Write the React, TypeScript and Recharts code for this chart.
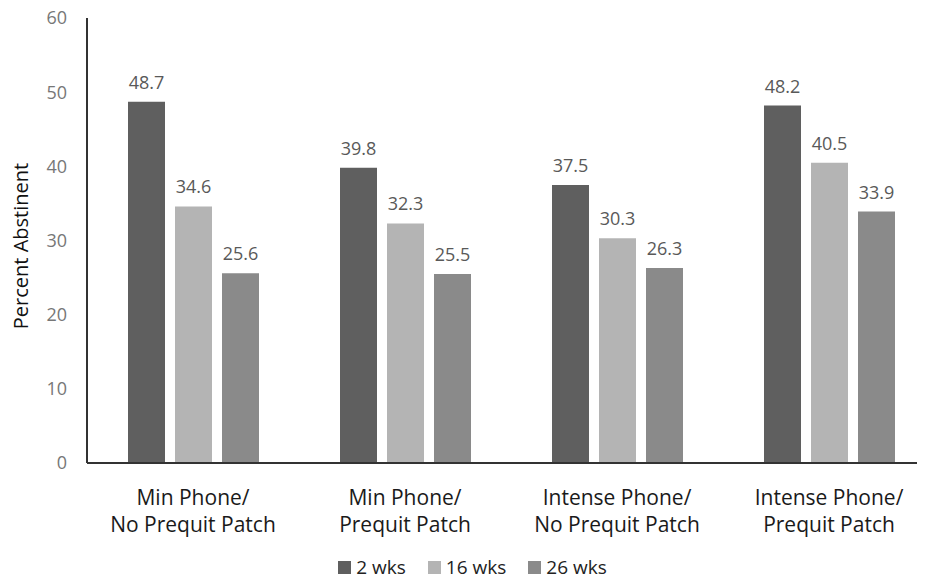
import React from "react";
import { BarChart, Bar, XAxis, YAxis, Legend, LabelList } from "recharts";

const groups = [
  "Min Phone/\nNo Prequit Patch",
  "Min Phone/\nPrequit Patch",
  "Intense Phone/\nNo Prequit Patch",
  "Intense Phone/\nPrequit Patch",
];
const wk2 = [48.7, 39.8, 37.5, 48.2];
const wk16 = [34.6, 32.3, 30.3, 40.5];
const wk26 = [25.6, 25.5, 26.3, 33.9];
const yTicks = [0, 10, 20, 30, 40, 50, 60];

const series = [
  { key: "wk2", name: "2 wks", color: "#5f5f5f" },
  { key: "wk16", name: "16 wks", color: "#b4b4b4" },
  { key: "wk26", name: "26 wks", color: "#8a8a8a" },
];

const data = groups.map((name, i) => ({ name, wk2: wk2[i], wk16: wk16[i], wk26: wk26[i] }));

const FONT = "'Open Sans', 'Noto Sans', sans-serif";

function CategoryTick({ x, y, payload }: any) {
  const lines = String(payload.value).split("\n");
  return (
    <text x={x} y={y} textAnchor="middle" fill="#1a1a1a" fontSize={21} fontFamily={FONT}>
      {lines.map((l: string, i: number) => (
        <tspan key={i} x={x} dy={i === 0 ? 34 : 27}>
          {l}
        </tspan>
      ))}
    </text>
  );
}

function YTitle() {
  return (
    <text
      x={28}
      y={246}
      transform="rotate(-90, 28, 246)"
      textAnchor="middle"
      fill="#111"
      fontSize={20}
      fontFamily={FONT}
    >
      Percent Abstinent
    </text>
  );
}

function LegendBox() {
  return (
    <div style={{ display: "flex", justifyContent: "center", gap: 22, fontSize: 19, fontFamily: FONT, color: "#222", lineHeight: "22px", marginLeft: 10 }}>
      {series.map((s) => (
        <div key={s.key} style={{ display: "flex", alignItems: "center" }}>
          <span style={{ display: "inline-block", width: 13, height: 13, background: s.color, marginRight: 5 }} />
          <span>{s.name}</span>
        </div>
      ))}
    </div>
  );
}

export default function App() {
  return (
    <div style={{ margin: -8, width: 925, height: 587, overflow: "hidden", background: "#fff", fontFamily: FONT }}>
      <BarChart
        width={940}
        height={587}
        data={data}
        margin={{ top: 18, right: 5, left: 0, bottom: 0 }}
        barSize={37}
        barGap={10}
      >
        <XAxis
          dataKey="name"
          tick={<CategoryTick />}
          tickLine={false}
          axisLine={{ stroke: "#333", strokeWidth: 2 }}
          height={102}
          interval={0}
        />
        <YAxis
          domain={[0, 60]}
          ticks={yTicks}
          width={87}
          tickLine={false}
          axisLine={{ stroke: "#333", strokeWidth: 2 }}
          tick={{ fill: "#777", fontSize: 18, fontFamily: FONT }}
          tickMargin={14}
          label={<YTitle />}
        />
        <Legend verticalAlign="bottom" content={<LegendBox />} wrapperStyle={{ bottom: 9 }} />
        {series.map((s) => (
          <Bar key={s.key} dataKey={s.key} name={s.name} fill={s.color} isAnimationActive={false}>
            <LabelList dataKey={s.key} position="top" offset={13} fill="#595959" fontSize={18} fontFamily={FONT} />
          </Bar>
        ))}
      </BarChart>
    </div>
  );
}
